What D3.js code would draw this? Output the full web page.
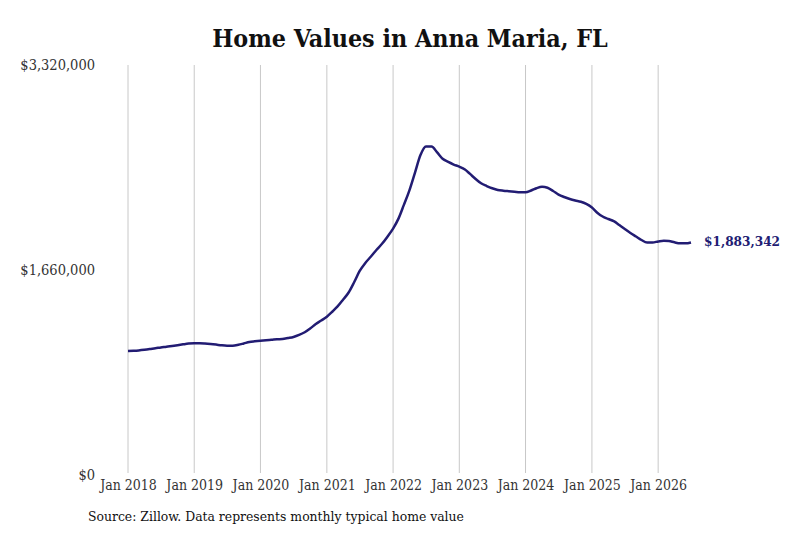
<!DOCTYPE html>
<html>
<head>
<meta charset="utf-8">
<script src="https://cdn.jsdelivr.net/npm/d3@7"></script>
<style>
  body { margin: 0; background: #fff; }
  svg text { font-family: "DejaVu Serif Condensed", "DejaVu Serif", serif; }
</style>
</head>
<body>
<div id="chart"></div>
<script>
// monthly typical home value, Jan 2018 .. Jul 2026
const startMonth = new Date(2018, 0, 1);
const values = [
  1004000, 1006000, 1009000, 1014000, 1020000, 1027000, 1032000, 1039000, 1045000, 1051000, 1058000, 1064000,
  1067000, 1067000, 1065000, 1061000, 1056000, 1050000, 1047000, 1047000, 1054000, 1065000, 1077000, 1083000,
  1088000, 1092000, 1095000, 1099000, 1101000, 1109000, 1118000, 1134000, 1156000, 1186000, 1223000, 1251000,
  1282000, 1324000, 1365000, 1421000, 1478000, 1563000, 1652000, 1717000, 1769000, 1822000, 1872000, 1930000,
  1995000, 2080000, 2185000, 2305000, 2445000, 2591000, 2660000, 2660000, 2612000, 2561000, 2535000, 2514000,
  2497000, 2474000, 2438000, 2397000, 2362000, 2340000, 2322000, 2308000, 2302000, 2298000, 2294000, 2290000,
  2289000, 2304000, 2322000, 2334000, 2326000, 2300000, 2271000, 2251000, 2235000, 2223000, 2213000, 2195000,
  2166000, 2122000, 2093000, 2073000, 2055000, 2024000, 1992000, 1960000, 1931000, 1903000, 1883000, 1883000,
  1891000, 1897000, 1895000, 1884000, 1876000, 1876000, 1883342
];
const yTicks = [0, 1660000, 3320000];
const xTickYears = [2018, 2019, 2020, 2021, 2022, 2023, 2024, 2025, 2026];

const data = values.map((v, i) => ({
  date: d3.timeMonth.offset(startMonth, i),
  value: v
}));

const width = 800, height = 533;
const margin = { top: 65, right: 109, bottom: 58, left: 128 };
const fontStack = '"DejaVu Serif Condensed", "DejaVu Serif", serif';

const svg = d3.select("#chart").append("svg")
  .attr("width", width)
  .attr("height", height);

const x = d3.scaleTime()
  .domain([new Date(2018, 0, 1), new Date(2026, 6, 1)])
  .range([margin.left, 691]);

const y = d3.scaleLinear()
  .domain([0, 3320000])
  .range([height - margin.bottom, margin.top]);

// title
svg.append("text")
  .attr("x", 410)
  .attr("y", 47)
  .attr("text-anchor", "middle")
  .style("font-size", "24.8px")
  .style("font-weight", "bold")
  .style("fill", "#111")
  .text("Home Values in Anna Maria, FL");

// vertical grid
const xTicks = xTickYears.map(yr => new Date(yr, 0, 1));
svg.append("g")
  .selectAll("line")
  .data(xTicks)
  .enter().append("line")
  .attr("x1", d => x(d))
  .attr("x2", d => x(d))
  .attr("y1", margin.top)
  .attr("y2", height - margin.bottom - 2)
  .style("stroke", "#c8c8c8")
  .style("stroke-width", 1);

// x axis labels
const xAxis = d3.axisBottom(x)
  .tickValues(xTicks)
  .tickSize(0)
  .tickPadding(5)
  .tickFormat(d3.timeFormat("Jan %Y"));
svg.append("g")
  .attr("transform", `translate(0,${height - margin.bottom})`)
  .call(xAxis)
  .call(g => g.select(".domain").remove())
  .call(g => g.selectAll("text")
    .style("font-family", fontStack)
    .style("font-size", "14px")
    .style("fill", "#333"));

// y axis labels
const yAxis = d3.axisLeft(y)
  .tickValues(yTicks)
  .tickSize(0)
  .tickPadding(0)
  .tickFormat(d => "$" + d3.format(",")(d));
svg.append("g")
  .attr("transform", "translate(95,0)")
  .call(yAxis)
  .call(g => g.select(".domain").remove())
  .call(g => g.selectAll("text")
    .style("font-family", fontStack)
    .style("font-size", "14.5px")
    .style("fill", "#333"));

// line
const line = d3.line()
  .x(d => x(d.date))
  .y(d => y(d.value))
  .curve(d3.curveMonotoneX);

svg.append("path")
  .datum(data)
  .attr("d", line)
  .style("fill", "none")
  .style("stroke", "#221c73")
  .style("stroke-width", 2.5)
  .style("stroke-linejoin", "round");

// end label
const last = data[data.length - 1];
svg.append("text")
  .attr("x", x(last.date) + 13)
  .attr("y", y(last.value) - 1)
  .attr("dy", "0.35em")
  .style("font-size", "13.5px")
  .style("font-weight", "bold")
  .style("fill", "#221c73")
  .text("$" + d3.format(",")(last.value));

// source
svg.append("text")
  .attr("x", 88)
  .attr("y", 521)
  .style("font-size", "13.8px")
  .style("fill", "#111")
  .text("Source: Zillow. Data represents monthly typical home value");
</script>
</body>
</html>
